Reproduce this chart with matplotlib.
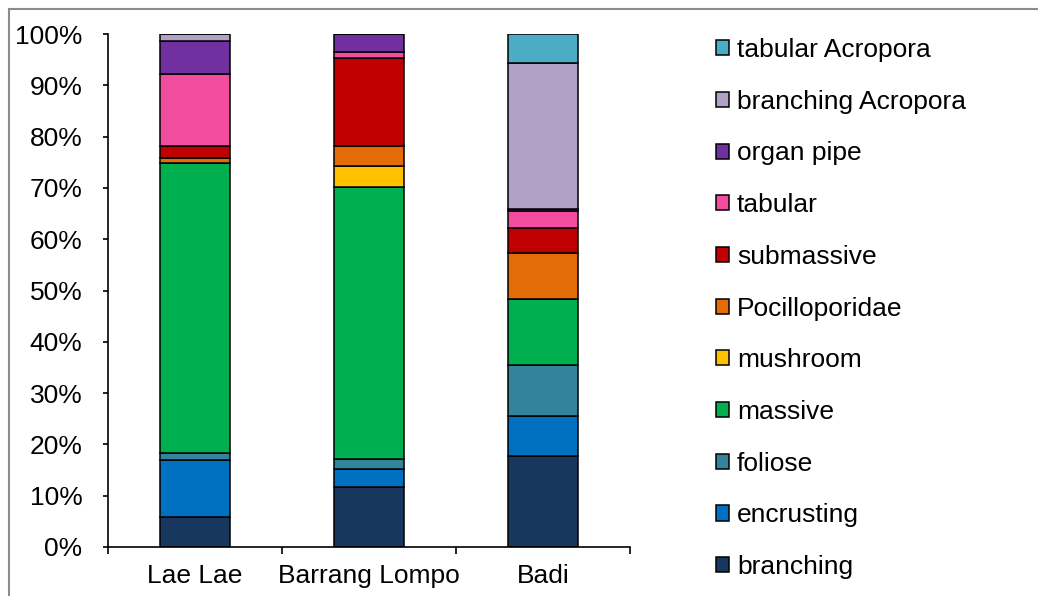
import matplotlib.pyplot as plt
import numpy as np
from matplotlib.patches import Rectangle, Patch

plt.rcParams['font.family'] = ['Liberation Sans', 'DejaVu Sans']

sites = ['Lae Lae', 'Barrang Lompo', 'Badi']
forms = ['branching', 'encrusting', 'foliose', 'massive', 'mushroom',
         'Pocilloporidae', 'submassive', 'tabular', 'organ pipe',
         'branching Acropora', 'tabular Acropora']
colors = ['#17375E', '#0070C0', '#31849B', '#00B050', '#FFC000',
          '#E36C09', '#C00000', '#F24C9E', '#7030A0', '#B2A1C7', '#4BACC6']

# percent cover per growth form, one value per site
branching = [5.9, 11.6, 17.8]
encrusting = [11.1, 3.6, 7.7]
foliose = [1.3, 1.9, 9.9]
massive = [56.6, 53.1, 13.0]
mushroom = [0.0, 4.1, 0.0]
pocilloporidae = [1.0, 3.9, 9.0]
submassive = [2.3, 17.2, 4.7]
tabular = [14.1, 1.0, 3.4]
organ_pipe = [6.4, 3.6, 0.4]
branching_acropora = [1.3, 0.0, 28.4]
tabular_acropora = [0.0, 0.0, 5.7]

series = [branching, encrusting, foliose, massive, mushroom, pocilloporidae,
          submassive, tabular, organ_pipe, branching_acropora, tabular_acropora]

fs = 19

fig = plt.figure(figsize=(10.38, 5.96), dpi=100)
ax = fig.add_axes([108/1038, 49/596, 522/1038, 513/596])

x = np.arange(len(sites))
bottom = np.zeros(len(sites))
for vals, col, name in zip(series, colors, forms):
    v = np.array(vals, dtype=float)
    ax.bar(x, v, 0.4, bottom=bottom, color=col, edgecolor='black',
           linewidth=1.1, label=name)
    bottom += v

ax.set_xlim(-0.5, 2.5)
ax.set_ylim(0, 100)
ax.set_yticks(np.arange(0, 101, 10))
ax.set_yticklabels([f'{t}%' for t in range(0, 101, 10)], fontsize=fs)
ax.set_xticks(x)
ax.set_xticklabels(sites, fontsize=fs)
ax.set_xticks([-0.5, 0.5, 1.5, 2.5], minor=True)
ax.tick_params(axis='x', which='major', length=0, pad=12)
ax.tick_params(axis='x', which='minor', length=5, width=1.2, direction='out')
ax.tick_params(axis='y', length=3.5, width=1.2, direction='out', pad=15)
for s in ['top', 'right']:
    ax.spines[s].set_visible(False)
for s in ['left', 'bottom']:
    ax.spines[s].set_linewidth(1.2)

handles = [Patch(facecolor=c, edgecolor='black', linewidth=1.1) for c in colors]
leg = fig.legend(handles[::-1], forms[::-1], loc='upper left',
                 bbox_to_anchor=(716/1038, 1 - 38/596), frameon=False,
                 fontsize=fs, handlelength=0.5, handleheight=0.5,
                 handletextpad=0.3, labelspacing=1.05, borderpad=0,
                 borderaxespad=0)

fig.patches.append(Rectangle((9/1038, -0.05), 1.1, 1 - 9/596 + 0.05,
                             transform=fig.transFigure, fill=False,
                             edgecolor='#8c8c8c', linewidth=1.5))

fig.savefig('out.png', dpi=100)
